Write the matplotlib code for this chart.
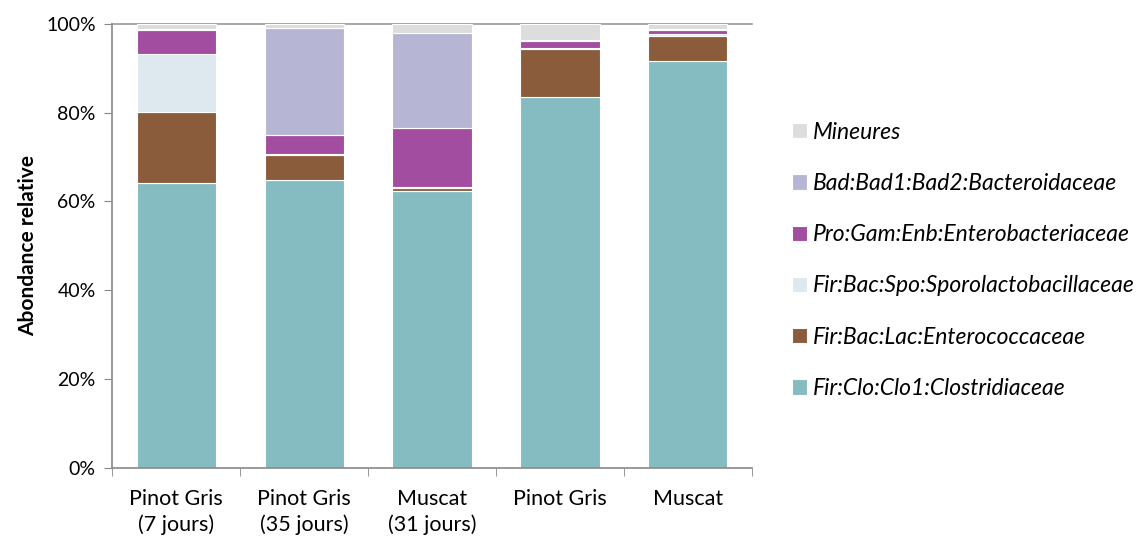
import matplotlib.pyplot as plt
import numpy as np
from matplotlib.ticker import PercentFormatter

plt.rcParams['font.family'] = ['Lato', 'DejaVu Sans']

categories = ["Pinot Gris\n(7 jours)", "Pinot Gris\n(35 jours)", "Muscat\n(31 jours)", "Pinot Gris", "Muscat"]

# stacked from bottom to top, values in %
clostridiaceae = [64.2, 64.9, 62.3, 83.5, 91.5]
enterococcaceae = [15.9, 5.5, 0.7, 10.7, 5.7]
sporolacto = [13.1, 0.3, 0.3, 0.4, 0.4]
enterobact = [5.4, 4.3, 13.2, 1.4, 1.0]
bacteroid = [0.3, 24.0, 21.4, 0.3, 0.2]
mineures = [1.1, 1.0, 2.1, 3.7, 1.2]

series = [
    ("Fir:Clo:Clo1:Clostridiaceae", clostridiaceae, "#84bcc1"),
    ("Fir:Bac:Lac:Enterococcaceae", enterococcaceae, "#8b5c3c"),
    ("Fir:Bac:Spo:Sporolactobacillaceae", sporolacto, "#dde8ef"),
    ("Pro:Gam:Enb:Enterobacteriaceae", enterobact, "#a24da0"),
    ("Bad:Bad1:Bad2:Bacteroidaceae", bacteroid, "#b6b6d4"),
    ("Mineures", mineures, "#dddddd"),
]

fig = plt.figure(figsize=(11.46, 5.39), dpi=100)
ax = fig.add_axes([0.098, 0.132, 0.558, 0.824])

x = np.arange(len(categories))
bottom = np.zeros(len(categories))
handles = []
for name, vals, col in series:
    b = ax.bar(x, vals, bottom=bottom, width=0.62, color=col,
               edgecolor="white", linewidth=0.8, label=name)
    handles.append(b)
    bottom += np.array(vals)

ax.set_xlim(-0.5, len(categories) - 0.5)
ax.set_ylim(0, 100)
ax.set_yticks(np.arange(0, 101, 20))
ax.yaxis.set_major_formatter(PercentFormatter(decimals=0))
ax.set_xticks(x)
ax.set_xticklabels(categories, fontsize=15.5, linespacing=1.35)
ax.set_xticks(np.arange(-0.5, len(categories)), minor=True)
ax.tick_params(axis="x", which="major", length=0, pad=15)
ax.tick_params(axis="x", which="minor", length=6, color="#888888")
ax.tick_params(axis="y", length=6, color="#888888", labelsize=14, pad=6)

for s in ["top", "right"]:
    ax.spines[s].set_visible(False)
for s in ["left", "bottom"]:
    ax.spines[s].set_color("#888888")
    ax.spines[s].set_linewidth(1.2)
ax.axhline(100, color="#999999", lw=1.2, zorder=0, clip_on=False)

ax.set_ylabel("Abondance relative", fontsize=15, fontweight="bold", labelpad=6)

leg = fig.legend(handles[::-1], [s[0] for s in series][::-1],
                 loc="center left", bbox_to_anchor=(0.691, 0.517),
                 frameon=False, handlelength=0.65, handleheight=0.65,
                 handletextpad=0.25, labelspacing=1.32,
                 borderaxespad=0, borderpad=0,
                 prop={"size": 16.5, "style": "italic", "family": "Lato"})

fig.savefig("out.png", dpi=100)
